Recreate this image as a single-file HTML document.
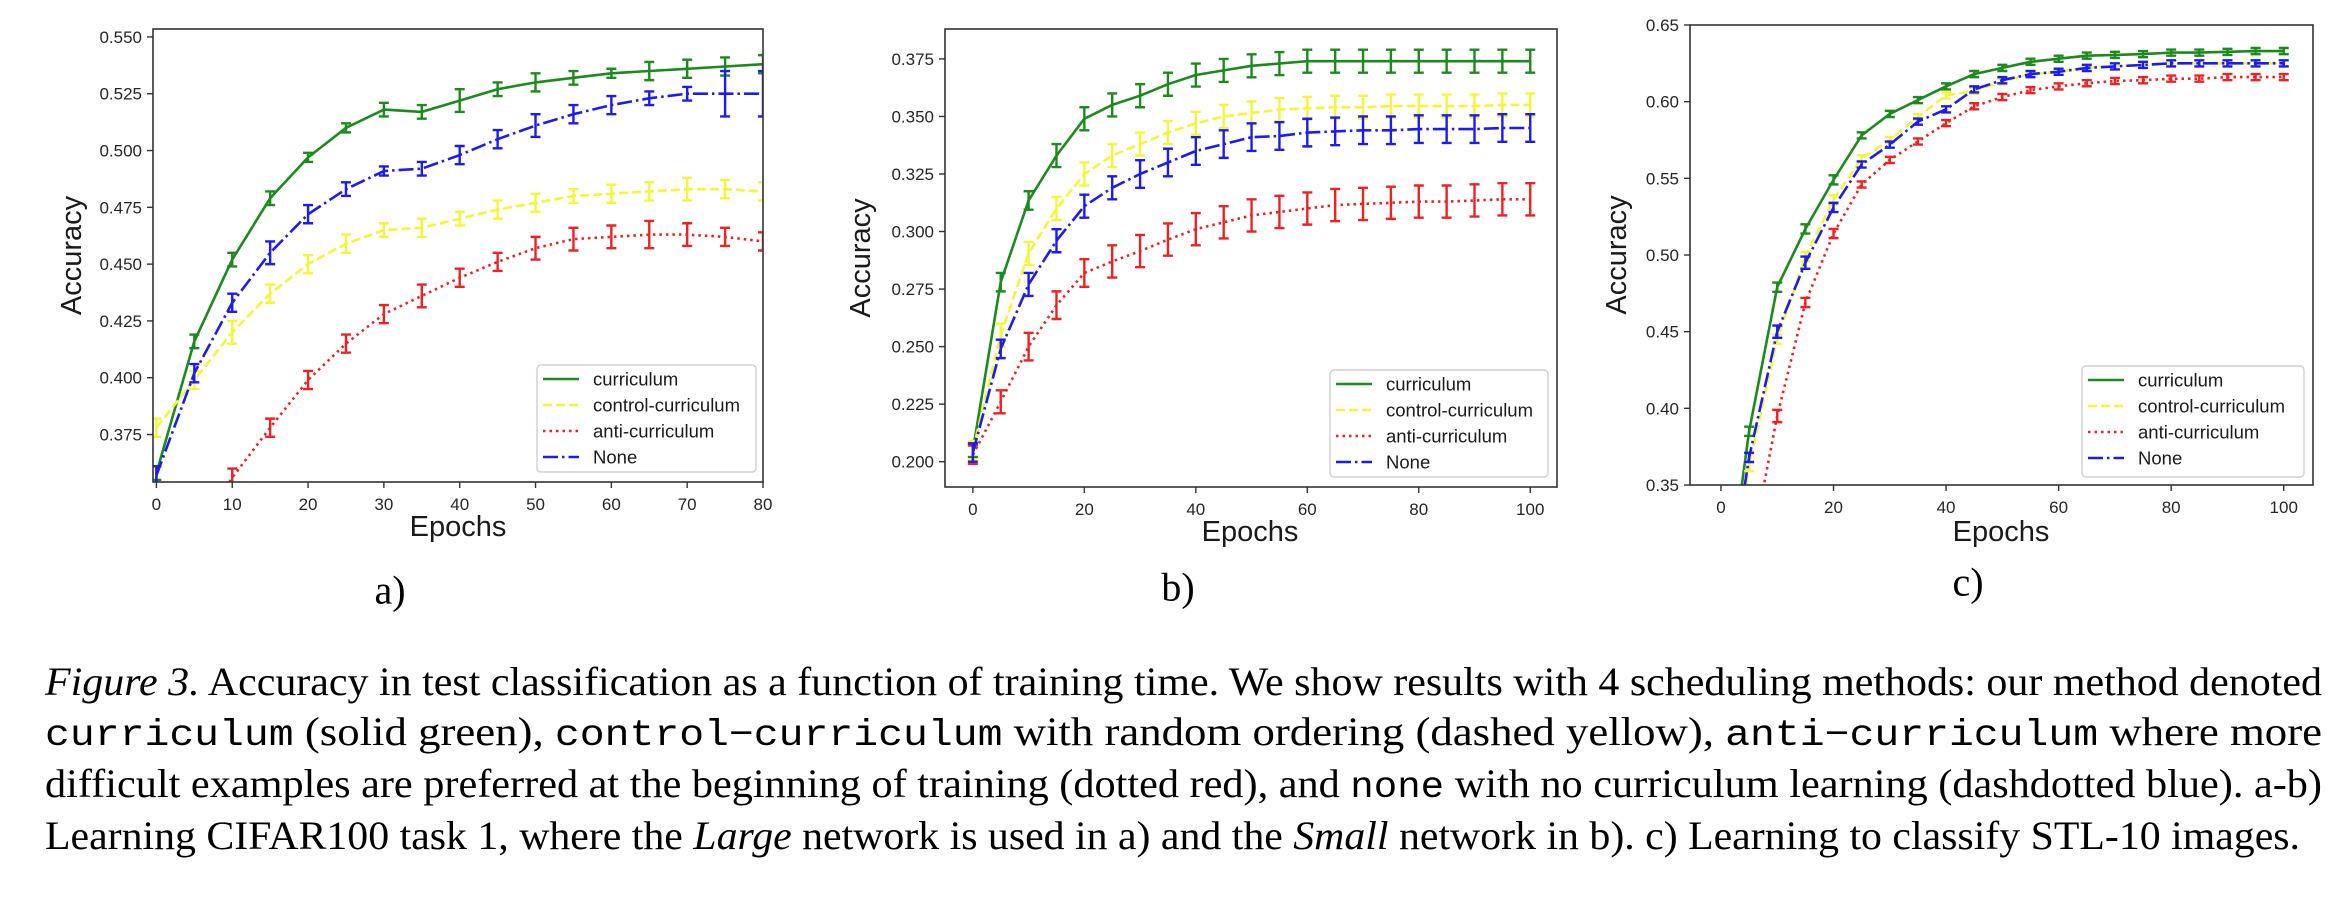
<!DOCTYPE html>
<html><head><meta charset="utf-8">
<style>
html,body{margin:0;padding:0;background:#fff;}
body{width:2342px;height:900px;position:relative;overflow:hidden;}
svg{position:absolute;left:0;top:0;}
.cap{position:absolute;left:45px;font-family:"Liberation Serif",serif;font-size:40px;line-height:40px;white-space:nowrap;color:#000;transform-origin:0 0;}
.mono{font-family:"Liberation Mono",monospace;font-size:37px;}
</style></head>
<body>
<svg id="fig" width="2342" height="640" viewBox="0 0 2342 640"></svg>
<div class="cap" data-target="2277" style="top:662px"><i>Figure 3.</i> Accuracy in test classification as a function of training time. We show results with 4 scheduling methods: our method denoted</div>
<div class="cap" data-target="2277" style="top:712px"><span class="mono">curriculum</span> (solid green), <span class="mono">control−curriculum</span> with random ordering (dashed yellow), <span class="mono">anti−curriculum</span> where more</div>
<div class="cap" data-target="2277" style="top:764px">difficult examples are preferred at the beginning of training (dotted red), and <span class="mono">none</span> with no curriculum learning (dashdotted blue). a-b)</div>
<div class="cap" data-target="2255" style="top:816px">Learning CIFAR100 task 1, where the <i>Large</i> network is used in a) and the <i>Small</i> network in b). c) Learning to classify STL-10 images.</div>
<script>
// ---------- Chart a data ----------
const epochsA = [0,5,10,15,20,25,30,35,40,45,50,55,60,65,70,75,80];
const aCurr = [0.358,0.416,0.452,0.479,0.497,0.510,0.518,0.517,0.522,0.527,0.530,0.532,0.534,0.535,0.536,0.537,0.538];
const aCtrl = [0.378,0.399,0.420,0.437,0.450,0.459,0.465,0.466,0.470,0.474,0.477,0.480,0.481,0.482,0.483,0.483,0.482];
const aAnti = [0.300,0.330,0.356,0.378,0.399,0.415,0.428,0.436,0.444,0.451,0.457,0.461,0.462,0.463,0.463,0.462,0.460];
const aNone = [0.357,0.402,0.433,0.455,0.472,0.483,0.491,0.492,0.498,0.505,0.511,0.516,0.520,0.523,0.525,0.525,0.525];
const aErrCurr = [0.003,0.003,0.003,0.003,0.002,0.002,0.003,0.003,0.005,0.003,0.004,0.003,0.002,0.004,0.004,0.004,0.004];
const aErrCtrl = [0.004,0.004,0.005,0.004,0.004,0.004,0.003,0.004,0.003,0.004,0.004,0.003,0.004,0.004,0.005,0.004,0.004];
const aErrAnti = [0.004,0.004,0.004,0.004,0.004,0.004,0.004,0.005,0.004,0.004,0.005,0.005,0.005,0.006,0.005,0.004,0.004];
const aErrNone = [0.004,0.004,0.004,0.005,0.004,0.003,0.002,0.003,0.004,0.004,0.005,0.004,0.004,0.003,0.003,0.010,0.010];
const xTicksA = [0,10,20,30,40,50,60,70,80];
const yTicksA = [0.375,0.400,0.425,0.450,0.475,0.500,0.525,0.550];

// ---------- Chart b data ----------
const epochsB = [0,5,10,15,20,25,30,35,40,45,50,55,60,65,70,75,80,85,90,95,100];
const bCurr = [0.205,0.278,0.3135,0.333,0.349,0.355,0.359,0.364,0.368,0.370,0.372,0.373,0.374,0.374,0.374,0.374,0.374,0.374,0.374,0.374,0.374];
const bCtrl = [0.205,0.255,0.2905,0.310,0.325,0.333,0.338,0.343,0.347,0.350,0.3515,0.353,0.3535,0.354,0.354,0.3545,0.3545,0.3545,0.3545,0.355,0.355];
const bAnti = [0.203,0.226,0.250,0.268,0.282,0.287,0.2915,0.2965,0.301,0.304,0.307,0.3085,0.310,0.3115,0.312,0.3125,0.313,0.313,0.3135,0.314,0.314];
const bNone = [0.204,0.249,0.277,0.296,0.311,0.319,0.325,0.330,0.335,0.338,0.341,0.3415,0.343,0.3435,0.344,0.344,0.3445,0.3445,0.3445,0.345,0.345];
const bErrCurr = [0.003,0.004,0.004,0.005,0.005,0.005,0.005,0.005,0.005,0.005,0.005,0.005,0.005,0.005,0.005,0.005,0.005,0.005,0.005,0.005,0.005];
const bErrCtrl = [0.004,0.005,0.005,0.005,0.005,0.005,0.005,0.005,0.005,0.005,0.005,0.005,0.005,0.005,0.005,0.005,0.005,0.005,0.005,0.005,0.005];
const bErrAnti = [0.004,0.005,0.006,0.006,0.006,0.007,0.007,0.007,0.007,0.007,0.007,0.007,0.007,0.007,0.007,0.007,0.007,0.007,0.007,0.007,0.007];
const bErrNone = [0.004,0.004,0.005,0.005,0.005,0.005,0.006,0.006,0.006,0.006,0.006,0.006,0.006,0.006,0.006,0.006,0.006,0.006,0.006,0.006,0.006];
const xTicksB = [0,20,40,60,80,100];
const yTicksB = [0.200,0.225,0.250,0.275,0.300,0.325,0.350,0.375];

// ---------- Chart c data ----------
const epochsC = [0,5,10,15,20,25,30,35,40,45,50,55,60,65,70,75,80,85,90,95,100];
const cCurr = [0.25,0.385,0.479,0.517,0.549,0.578,0.592,0.601,0.610,0.618,0.622,0.626,0.628,0.630,0.6305,0.631,0.632,0.632,0.6325,0.633,0.633];
const cCtrl = [0.25,0.362,0.445,0.499,0.536,0.563,0.575,0.590,0.604,0.607,0.613,0.618,0.6195,0.622,0.623,0.624,0.625,0.625,0.625,0.625,0.625];
const cAnti = [0.25,0.30,0.395,0.469,0.514,0.546,0.562,0.574,0.586,0.597,0.603,0.6075,0.610,0.612,0.6135,0.614,0.615,0.615,0.616,0.616,0.616];
const cNone = [0.25,0.368,0.450,0.495,0.531,0.559,0.572,0.587,0.595,0.608,0.614,0.618,0.6195,0.622,0.623,0.624,0.625,0.625,0.625,0.625,0.625];
const cErrCurr = [0.002,0.003,0.003,0.003,0.003,0.002,0.002,0.002,0.002,0.002,0.002,0.002,0.002,0.002,0.002,0.002,0.002,0.002,0.002,0.002,0.002];
const cErrCtrl = [0.002,0.003,0.003,0.003,0.003,0.002,0.002,0.002,0.002,0.002,0.002,0.002,0.002,0.002,0.002,0.002,0.002,0.002,0.002,0.002,0.002];
const cErrAnti = [0.002,0.003,0.004,0.003,0.003,0.002,0.002,0.002,0.002,0.002,0.002,0.002,0.002,0.002,0.002,0.002,0.002,0.002,0.002,0.002,0.002];
const cErrNone = [0.002,0.003,0.004,0.004,0.003,0.002,0.002,0.002,0.002,0.002,0.002,0.002,0.002,0.002,0.002,0.002,0.002,0.002,0.002,0.002,0.002];
const xTicksC = [0,20,40,60,80,100];
const yTicksC = [0.35,0.40,0.45,0.50,0.55,0.60,0.65];

const legendLabels = ['curriculum','control-curriculum','anti-curriculum','None'];

const NS = 'http://www.w3.org/2000/svg';
const svg = document.getElementById('fig');
function mk(tag, attrs, parent){
  const e = document.createElementNS(NS, tag);
  for (const k in attrs) e.setAttribute(k, attrs[k]);
  (parent||svg).appendChild(e);
  return e;
}
const styles = [
  {color:'#1c8a1c', dash:'', key:'curriculum'},
  {color:'#f5f53a', dash:'9 4', key:'control-curriculum'},
  {color:'#ee2222', dash:'2.5 4', key:'anti-curriculum'},
  {color:'#1c1cf0', dash:'15 4 2.5 4', key:'none'}
];

function drawChart(id, cfg, epochs, series, errs, xTicks, yTicks, decimals){
  const g = mk('g', {});
  
  
  const sx = v => cfg.L + (v - cfg.xmin) / (cfg.xmax - cfg.xmin) * (cfg.R - cfg.L);
  const sy = v => cfg.B - (v - cfg.ymin) / (cfg.ymax - cfg.ymin) * (cfg.B - cfg.T);
  const clip = mk('clipPath', {id:'clip-' + id}, g);
  mk('rect', {x:cfg.L, y:cfg.T, width:cfg.R - cfg.L, height:cfg.B - cfg.T}, clip);
  const plot = mk('g', {'clip-path':'url(#clip-' + id + ')'}, g);
  
  
  series.forEach((vals, si) => {
    const st = styles[si];
    const sg = mk('g', {}, plot);
    
    
    const pts = epochs.map((e, i) => sx(e).toFixed(1) + ',' + sy(vals[i]).toFixed(1)).join(' ');
    const line = mk('polyline', {points:pts, fill:'none', stroke:st.color, 'stroke-width':2.6, 'stroke-dasharray':st.dash, 'stroke-linejoin':'round'}, sg);
    
    
    epochs.forEach((e, i) => {
      const x = sx(e), y1 = sy(vals[i] - errs[si][i]), y2 = sy(vals[i] + errs[si][i]);
      const eb = mk('path', {d:`M${x},${y1}V${y2}M${x-5},${y1}H${x+5}M${x-5},${y2}H${x+5}`, stroke:st.color, 'stroke-width':2.4, fill:'none'}, sg);
      
      
    });
  });
  const frame = mk('rect', {x:cfg.L, y:cfg.T, width:cfg.R - cfg.L, height:cfg.B - cfg.T, fill:'none', stroke:'#333', 'stroke-width':1.6}, g);
  
  
  xTicks.forEach(t => {
    const x = sx(t);
    mk('line', {x1:x, x2:x, y1:cfg.B, y2:cfg.B + 6, stroke:'#333', 'stroke-width':1.4}, g);
    const tl = mk('text', {x:x, y:cfg.B + 28, 'text-anchor':'middle', 'font-family':'Liberation Sans, sans-serif', 'font-size':17, fill:'#262626'}, g);
    tl.textContent = t;
    
    
  });
  yTicks.forEach(t => {
    const y = sy(t);
    mk('line', {x1:cfg.L - 6, x2:cfg.L, y1:y, y2:y, stroke:'#333', 'stroke-width':1.4}, g);
    const tl = mk('text', {x:cfg.L - 11, y:y + 6, 'text-anchor':'end', 'font-family':'Liberation Sans, sans-serif', 'font-size':17, fill:'#262626'}, g);
    tl.textContent = t.toFixed(decimals);
    
    
  });
  const yl = mk('text', {x:cfg.ylx, y:(cfg.T + cfg.B) / 2, 'text-anchor':'middle', 'dominant-baseline':'central', transform:`rotate(-90 ${cfg.ylx} ${(cfg.T + cfg.B) / 2})`, 'font-family':'Liberation Sans, sans-serif', 'font-size':29, fill:'#1a1a1a'}, g);
  yl.textContent = 'Accuracy';
  
  
  const xl = mk('text', {x:cfg.xlx, y:cfg.xly, 'text-anchor':'middle', 'dominant-baseline':'central', 'font-family':'Liberation Sans, sans-serif', 'font-size':29, fill:'#1a1a1a'}, g);
  xl.textContent = 'Epochs';
  
  
  const lg = mk('g', {}, g);
  
  
  mk('rect', {x:cfg.lgx, y:cfg.lgy, width:cfg.lgw, height:cfg.lgh, rx:4, fill:'#fff', 'fill-opacity':0.85, stroke:'#d0d0d0', 'stroke-width':1.4}, lg);
  legendLabels.forEach((lab, i) => {
    const y = cfg.lgy + 14 + i * 26;
    const eg = mk('g', {}, lg);
    
    
    mk('line', {x1:cfg.lgx + 6, x2:cfg.lgx + 42, y1:y, y2:y, stroke:styles[i].color, 'stroke-width':2.6, 'stroke-dasharray':styles[i].dash}, eg);
    const t = mk('text', {x:cfg.lgx + 56, y:y + 6.5, 'font-family':'Liberation Sans, sans-serif', 'font-size':18.5, fill:'#1a1a1a'}, eg);
    t.textContent = lab;
  });
  const pl = mk('text', {x:cfg.plx, y:cfg.ply, 'text-anchor':'middle', 'dominant-baseline':'central', 'font-family':'Liberation Serif, serif', 'font-size':40, fill:'#000'}, g);
  pl.textContent = id + ')';
  
  
}

drawChart('a', {L:153,R:763,T:29,B:482,xmin:-0.45,xmax:80,ymin:0.3541,ymax:0.5535,ylx:72,xlx:458,xly:527,lgx:537,lgy:365,lgw:219,lgh:107,plx:390,ply:590},
  epochsA, [aCurr,aCtrl,aAnti,aNone], [aErrCurr,aErrCtrl,aErrAnti,aErrNone], xTicksA, yTicksA, 3);
drawChart('b', {L:945,R:1557,T:29,B:487,xmin:-5,xmax:104.8,ymin:0.189,ymax:0.388,ylx:861,xlx:1250,xly:532,lgx:1330,lgy:370,lgw:218,lgh:107,plx:1178,ply:587},
  epochsB, [bCurr,bCtrl,bAnti,bNone], [bErrCurr,bErrCtrl,bErrAnti,bErrNone], xTicksB, yTicksB, 3);
drawChart('c', {L:1690,R:2313,T:25,B:485,xmin:-5.5,xmax:105.2,ymin:0.35,ymax:0.65,ylx:1617,xlx:2001,xly:532,lgx:2082,lgy:366,lgw:222,lgh:111,plx:1968,ply:582},
  epochsC, [cCurr,cCtrl,cAnti,cNone], [cErrCurr,cErrCtrl,cErrAnti,cErrNone], xTicksC, yTicksC, 2);

// fit caption lines by horizontal scaling
document.querySelectorAll('.cap').forEach(d => {
  const target = parseFloat(d.getAttribute('data-target'));
  const w = d.getBoundingClientRect().width;
  if (w > 0) d.style.transform = 'scaleX(' + (target / w) + ')';
});
</script>
</body></html>
